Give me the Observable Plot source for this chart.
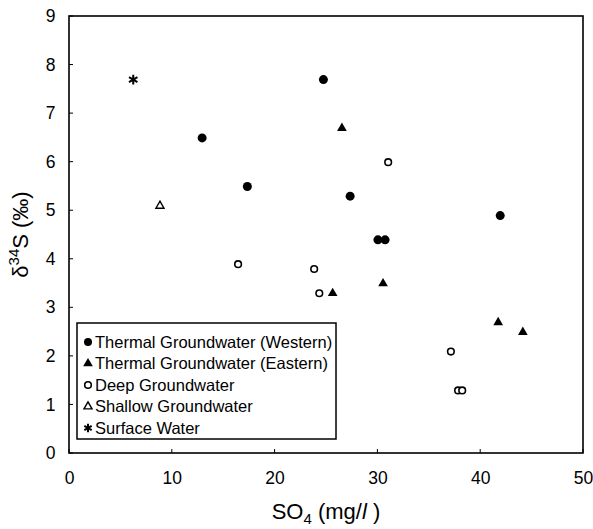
<!DOCTYPE html>
<html><head><meta charset="utf-8">
<script src="https://cdn.jsdelivr.net/npm/d3@7"></script>
<script src="https://cdn.jsdelivr.net/npm/@observablehq/plot@0.6"></script>
<style>
body{margin:0;background:#fff;}
#chart{position:relative;width:593px;height:529px;font-family:"Liberation Sans",Arial,sans-serif;}
</style></head><body><div id="chart"></div>
<script>
// ---- data ----
const westernX = [12.9, 17.3, 24.7, 27.3, 30.0, 30.7, 41.9];
const westernY = [6.5, 5.5, 7.7, 5.3, 4.4, 4.4, 4.9];
const easternX = [26.5, 25.6, 30.5, 41.7, 44.1];
const easternY = [6.7, 3.3, 3.5, 2.7, 2.5];
const deepX = [31.0, 16.4, 23.8, 24.3, 37.1, 37.8, 38.2];
const deepY = [6.0, 3.9, 3.8, 3.3, 2.1, 1.3, 1.3];
const shallowX = [8.8];
const shallowY = [5.1];
const surfaceX = [6.2];
const surfaceY = [7.7];
const seriesNames = ["Thermal Groundwater (Western)", "Thermal Groundwater (Eastern)", "Deep Groundwater", "Shallow Groundwater", "Surface Water"];
const xTicks = [0, 10, 20, 30, 40, 50];
const yTicks = [0, 1, 2, 3, 4, 5, 6, 7, 8, 9];

// ---- styles ----
const styles = [
  {symbol: "circle", fill: "black", stroke: "none", r: 4.5, sw: 0},
  {symbol: "triangle", fill: "black", stroke: "none", r: 3.6, sw: 0},
  {symbol: "circle", fill: "white", stroke: "black", r: 3.3, sw: 1.6},
  {symbol: "triangle", fill: "white", stroke: "black", r: 3.0, sw: 1.4},
  {symbol: "asterisk", fill: "none", stroke: "black", r: 4.6, sw: 2}
];
const xs = [westernX, easternX, deepX, shallowX, surfaceX];
const ys = [westernY, easternY, deepY, shallowY, surfaceY];
const series = seriesNames.map((name, k) => ({name, ...styles[k],
  data: xs[k].map((x, i) => ({x, y: ys[k][i], name}))}));

const W = 593, H = 529, mL = 69, mR = 10, mT = 16, mB = 76;
const font = "'Liberation Sans', Arial, sans-serif";

const plot = Plot.plot({
  width: W, height: H,
  marginLeft: mL, marginRight: mR, marginTop: mT, marginBottom: mB,
  style: {fontFamily: font, fontSize: "17px", color: "black", background: "white"},
  x: {domain: [0, 50]},
  y: {domain: [0, 9]},
  marks: [
    Plot.axisY(yTicks, {tickSize: 0, tickPadding: 14, fontSize: 17.5, label: null}),
    Plot.axisX(xTicks, {tickSize: 0, tickPadding: 18, fontSize: 17.5, label: null}),
    ...series.map(s => Plot.dot(s.data, {x: "x", y: "y", symbol: () => s.symbol, r: s.r,
      fill: s.fill, stroke: s.stroke, strokeWidth: s.sw}))
  ]
});

const svg = d3.select(plot);
const sx = plot.scale("x"), sy = plot.scale("y");
const [x0, x1] = sx.range, [y0, y1] = sy.range; // y0 bottom, y1 top
// frame and inward ticks
const fr = svg.insert("g", ":first-child").attr("stroke", "black").attr("fill", "none");
fr.append("rect").attr("x", x0).attr("y", y1).attr("width", x1 - x0).attr("height", y0 - y1)
  .attr("stroke-width", 1.6);
xTicks.forEach(v => { const px = sx.apply(v);
  fr.append("line").attr("x1", px).attr("x2", px).attr("y1", y0).attr("y2", y0 - 4).attr("stroke-width", 1); });
yTicks.forEach(v => { const py = sy.apply(v);
  fr.append("line").attr("x1", x0).attr("x2", x0 + 4).attr("y1", py).attr("y2", py).attr("stroke-width", 1); });

// x title
const xt = svg.append("text").attr("x", (x0 + x1) / 2).attr("y", 519)
  .attr("text-anchor", "middle").style("font-size", "22px").style("font-family", font).attr("fill", "black");
xt.append("tspan").text("SO");
xt.append("tspan").attr("dy", 5).style("font-size", "15px").text("4");
xt.append("tspan").attr("dy", -5).text(" (mg/");
xt.append("tspan").style("font-style", "italic").text("l");
xt.append("tspan").text(" )");
// y title
const yt = svg.append("text").attr("transform", `translate(28,${(y0 + y1) / 2}) rotate(-90)`)
  .attr("text-anchor", "middle").style("font-size", "22px").style("font-family", font).attr("fill", "black");
yt.append("tspan").text("δ");
yt.append("tspan").attr("dy", -9).style("font-size", "15px").text("34");
yt.append("tspan").attr("dy", 9).text("S (‰)");

// legend
const lg = svg.append("g").attr("transform", "translate(77,323)");
lg.append("rect").attr("width", 259).attr("height", 116).attr("fill", "white")
  .attr("stroke", "black").attr("stroke-width", 1.5);
const symMap = {circle: d3.symbolCircle, triangle: d3.symbolTriangle, asterisk: d3.symbolAsterisk};
series.forEach((s, i) => {
  const cy = 19 + i * 21.5;
  const lr = Math.min(s.r, 4);
  lg.append("path").attr("d", d3.symbol(symMap[s.symbol], Math.PI * lr * lr)())
    .attr("transform", `translate(11,${cy})`)
    .attr("fill", s.fill).attr("stroke", s.stroke).attr("stroke-width", s.sw);
  lg.append("text").attr("x", 18).attr("y", cy).attr("dy", "0.36em").attr("text-anchor", "start")
    .style("font-size", "16.5px").style("font-family", font).attr("fill", "black").text(s.name);
});

document.getElementById("chart").appendChild(plot);
</script></body></html>
